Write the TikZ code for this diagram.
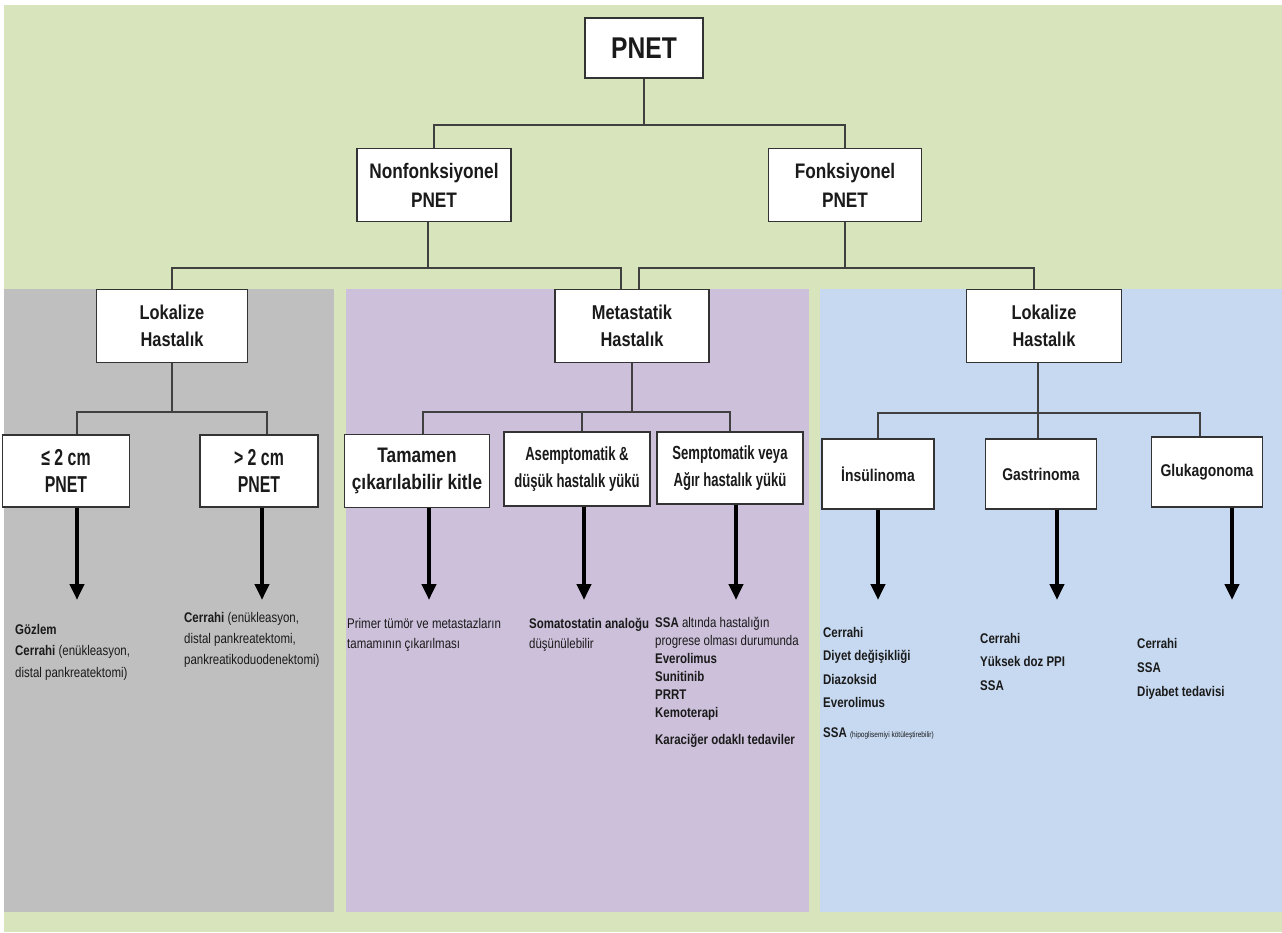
\documentclass[tikz,border=0pt]{standalone}
\usepackage{fontspec}
\setmainfont{Liberation Sans}[FakeStretch=0.82]
\newfontfamily\condensed{Liberation Sans}[FakeStretch=0.69]
\usetikzlibrary{arrows.meta}

\definecolor{bggreen}{HTML}{D8E4BC}
\definecolor{panelgray}{HTML}{BFBFBF}
\definecolor{panelpurple}{HTML}{CCC0DA}
\definecolor{panelblue}{HTML}{C6D9F1}
\definecolor{ink}{HTML}{1A1A1A}

\begin{document}
\begin{tikzpicture}[x=1pt,y=-1pt,
  box/.style={draw=black!80, line width=1.2pt, fill=white, align=center,
    inner sep=0pt, text=ink, font=\bfseries\fontsize{20}{27}\selectfont},
  narrowbox/.style={box, font=\condensed\bfseries\fontsize{19}{27}\selectfont},
  link/.style={draw=black!75, line width=1.2pt},
  down/.style={draw=black, line width=4pt, -{Triangle[width=14pt,length=16pt]}},
  txt/.style={anchor=north west, inner sep=0pt, align=left, text=ink,
    font=\fontsize{14}{20}\selectfont}]

% page and background panels
\useasboundingbox (0,0) rectangle (1282,932);
\fill[white] (0,0) rectangle (1282,932);
\fill[bggreen] (4,5) rectangle (1282,932);
\fill[panelgray] (4,289) rectangle (334,912);
\fill[panelpurple] (346,289) rectangle (809,912);
\fill[panelblue] (820,289) rectangle (1282,912);

% boxes
\node[box, minimum width=118pt, minimum height=60pt,
  font=\bfseries\fontsize{30}{34}\selectfont] (pnet) at (644,48) {PNET};
\node[box, minimum width=154pt, minimum height=73pt,
  font=\bfseries\fontsize{21}{29}\selectfont] (nf) at (434,185) {Nonfonksiyonel\\PNET};
\node[box, minimum width=153pt, minimum height=73pt,
  font=\bfseries\fontsize{21}{29}\selectfont] (fk) at (845,185) {Fonksiyonel\\PNET};

\node[box, minimum width=151pt, minimum height=73pt] (lokL) at (172,326) {Lokalize\\Hastalık};
\node[box, minimum width=154pt, minimum height=73pt] (met) at (632,326) {Metastatik\\Hastalık};
\node[box, minimum width=155pt, minimum height=73pt] (lokR) at (1044,326) {Lokalize\\Hastalık};

\node[narrowbox, minimum width=127pt, minimum height=72pt,
  font=\condensed\bfseries\fontsize{23}{27}\selectfont] (s2) at (66,471) {≤ 2 cm\\PNET};
\node[narrowbox, minimum width=118pt, minimum height=72pt,
  font=\condensed\bfseries\fontsize{23}{27}\selectfont] (g2) at (259,471) {> 2 cm\\PNET};

\node[box, minimum width=145pt, minimum height=73pt,
  font=\bfseries\fontsize{21}{27}\selectfont] (tam) at (417,471) {Tamamen\\çıkarılabilir kitle};
\node[narrowbox, minimum width=146pt, minimum height=74pt] (ase) at (577,469) {Asemptomatik \&\\düşük hastalık yükü};
\node[narrowbox, minimum width=146pt, minimum height=72pt] (sem) at (730,468) {Semptomatik veya\\Ağır hastalık yükü};

\node[box, minimum width=112pt, minimum height=70pt,
  font=\bfseries\fontsize{17}{22}\selectfont] (ins) at (878,474) {İnsülinoma};
\node[box, minimum width=111pt, minimum height=70pt,
  font=\bfseries\fontsize{17}{22}\selectfont] (gas) at (1041,474) {Gastrinoma};
\node[box, minimum width=111pt, minimum height=70pt,
  font=\bfseries\fontsize{17}{22}\selectfont] (glu) at (1207,472) {Glukagonoma};

% bus levels
\coordinate (b1) at (0,125);
\coordinate (b2) at (0,268);
\coordinate (b3) at (0,412);
\coordinate (b4) at (0,413);
\coordinate (ay) at (0,600);

% tree connectors
\draw[link] (pnet.south) -- (pnet.south |- b1);
\draw[link] (nf.north) |- (pnet.south |- b1) -| (fk.north);

\draw[link] ([xshift=-6pt]nf.south) -- ([xshift=-6pt]nf.south |- b2);
\draw[link] (lokL.north) |- ([xshift=-6pt]nf.south |- b2) -| ([xshift=-11pt]met.north);
\draw[link] (fk.south) -- (fk.south |- b2);
\draw[link] ([xshift=7pt]met.north) |- (fk.south |- b2) -| ([xshift=-10pt]lokR.north);

\draw[link] (lokL.south) -- (lokL.south |- b3);
\draw[link] ([xshift=11pt]s2.north) |- (lokL.south |- b3) -| ([xshift=8pt]g2.north);

\draw[link] (met.south) -- (met.south |- b3);
\draw[link] ([xshift=6pt]tam.north) |- (met.south |- b3) -| (sem.north);
\draw[link] ([xshift=5pt]ase.north) -- ([xshift=5pt]ase.north |- b3);

\draw[link] ([xshift=-6pt]lokR.south) -- ([xshift=-6pt]lokR.south |- b4);
\draw[link] (ins.north) |- ([xshift=-6pt]lokR.south |- b4) -| ([xshift=-7pt]glu.north);
\draw[link] ([xshift=-3pt]gas.north) -- ([xshift=-3pt]gas.north |- b4);

% treatment arrows
\draw[down] ([xshift=11pt]s2.south) -- ([xshift=11pt]s2.south |- ay);
\draw[down] ([xshift=3pt]g2.south) -- ([xshift=3pt]g2.south |- ay);
\draw[down] ([xshift=12pt]tam.south) -- ([xshift=12pt]tam.south |- ay);
\draw[down] ([xshift=7pt]ase.south) -- ([xshift=7pt]ase.south |- ay);
\draw[down] ([xshift=6pt]sem.south) -- ([xshift=6pt]sem.south |- ay);
\draw[down] (ins.south) -- (ins.south |- ay);
\draw[down] ([xshift=16pt]gas.south) -- ([xshift=16pt]gas.south |- ay);
\draw[down] ([xshift=25pt]glu.south) -- ([xshift=25pt]glu.south |- ay);

% treatment texts
\node[txt, font=\fontsize{14}{21.5}\selectfont] (tx1) at (15,619)
  {\strut\textbf{Gözlem}\\\textbf{Cerrahi} (enükleasyon,\\distal pankreatektomi)};
\node[txt, font=\fontsize{14}{21}\selectfont] (tx2) at (184,608)
  {\strut\textbf{Cerrahi} (enükleasyon,\\distal pankreatektomi,\\pankreatikoduodenektomi)};

\node[txt] (tx3) at (347,614)
  {\strut Primer tümör ve metastazların\\tamamının çıkarılması};
\node[txt] (tx4) at (529,614)
  {\strut\textbf{Somatostatin analoğu}\\düşünülebilir};
\node[txt, font=\fontsize{14}{18}\selectfont] (tx5) at (655,615)
  {\strut\textbf{SSA} altında hastalığın\\progrese olması durumunda\\\textbf{Everolimus}\\\textbf{Sunitinib}\\\textbf{PRRT}\\\textbf{Kemoterapi}\\[9pt]\textbf{Karaciğer odaklı tedaviler}};

\node[txt, font=\bfseries\fontsize{14}{23.3}\selectfont] (tx6) at (823,621)
  {\strut Cerrahi\\Diyet değişikliği\\Diazoksid\\Everolimus\\[7pt]SSA {\mdseries\fontsize{8}{10}\selectfont (hipoglisemiyi kötüleştirebilir)}};
\node[txt, font=\bfseries\fontsize{14}{23.5}\selectfont] (tx7) at (980,626.5)
  {\strut Cerrahi\\Yüksek doz PPI\\SSA};
\node[txt, font=\bfseries\fontsize{14}{24}\selectfont] (tx8) at (1137,631)
  {\strut Cerrahi\\SSA\\Diyabet tedavisi};

\end{tikzpicture}
\end{document}
